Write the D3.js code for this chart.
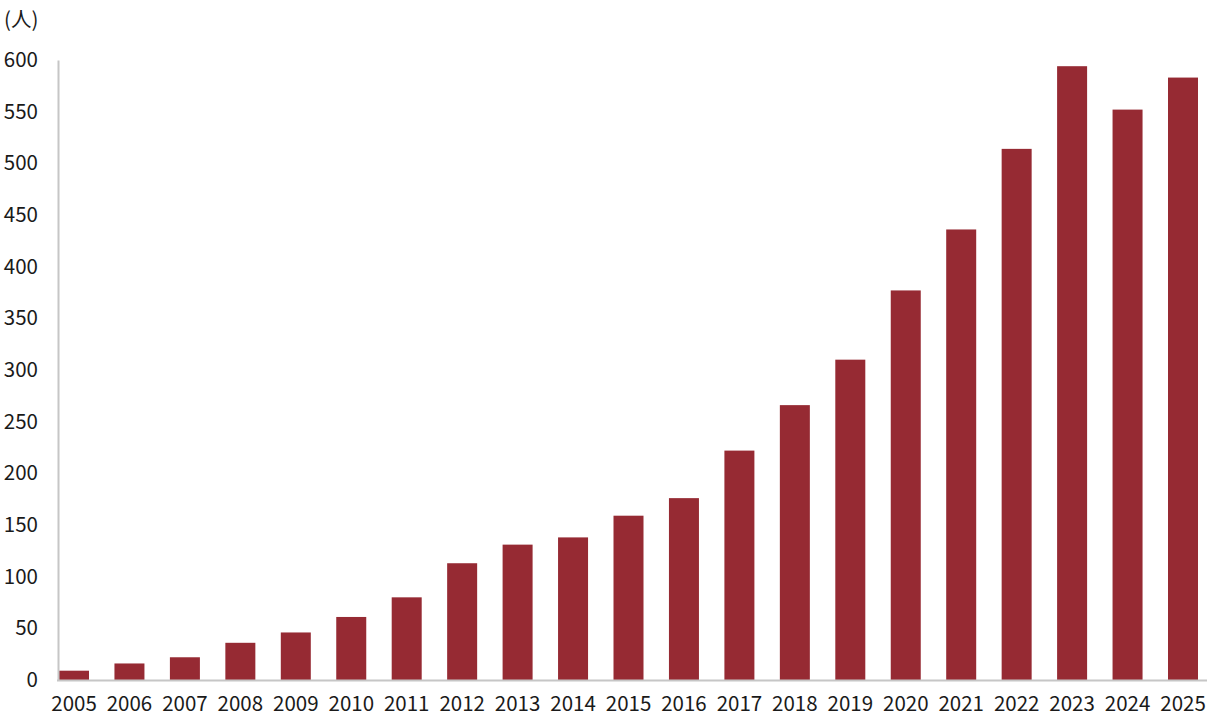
<!DOCTYPE html>
<html>
<head>
<meta charset="utf-8">
<script src="https://cdn.jsdelivr.net/npm/d3@7"></script>
<style>
html,body{margin:0;padding:0;background:#fff;}
svg text{font-family:"Noto Sans CJK JP","Noto Sans",sans-serif;fill:#1a1a1a;}
</style>
</head>
<body>
<svg id="chart" width="1220" height="718"></svg>
<script>
const years = ["2005","2006","2007","2008","2009","2010","2011","2012","2013","2014","2015","2016","2017","2018","2019","2020","2021","2022","2023","2024","2025"];
const values = [9,16,22,36,46,61,80,113,131,138,159,176,222,266,310,377,436,514,594,552,583];
const yTicks = [0,50,100,150,200,250,300,350,400,450,500,550,600];
const unitLabel = "(人)";

const svg = d3.select("#chart");
const x = d3.scaleBand().domain(years).range([59,1198]).paddingInner(0.459).paddingOuter(0);
const y = d3.scaleLinear().domain([0,600]).range([680,60]);

// bars
svg.append("g").selectAll("rect").data(values).join("rect")
  .attr("x",(d,i)=>x(years[i]))
  .attr("y",d=>y(d))
  .attr("width",x.bandwidth())
  .attr("height",d=>y(0)-y(d))
  .attr("fill","#962a33");

// y axis
const yAxis = d3.axisLeft(y).tickValues(yTicks).tickSize(0).tickPadding(20);
const gy = svg.append("g").attr("transform","translate(58,0)").call(yAxis);
gy.select(".domain").attr("stroke","#c6c6c6").attr("stroke-width",2);
gy.selectAll("text").attr("font-size",20.5).attr("font-family",'"Noto Sans CJK JP","Noto Sans",sans-serif').attr("fill","#1a1a1a");

// x axis
const xAxis = d3.axisBottom(x).tickSize(0).tickPadding(16);
const gx = svg.append("g").attr("transform","translate(0,680.5)").call(xAxis);
gx.select(".domain").remove();
gx.selectAll("text").attr("font-size",20.5).attr("font-family",'"Noto Sans CJK JP","Noto Sans",sans-serif').attr("fill","#1a1a1a");
svg.append("line").attr("x1",57).attr("x2",1207).attr("y1",680.5).attr("y2",680.5)
  .attr("stroke","#c6c6c6").attr("stroke-width",2);

// unit label
svg.append("text").attr("x",4).attr("y",27).attr("font-size",20.5).text(unitLabel);
</script>
</body>
</html>
